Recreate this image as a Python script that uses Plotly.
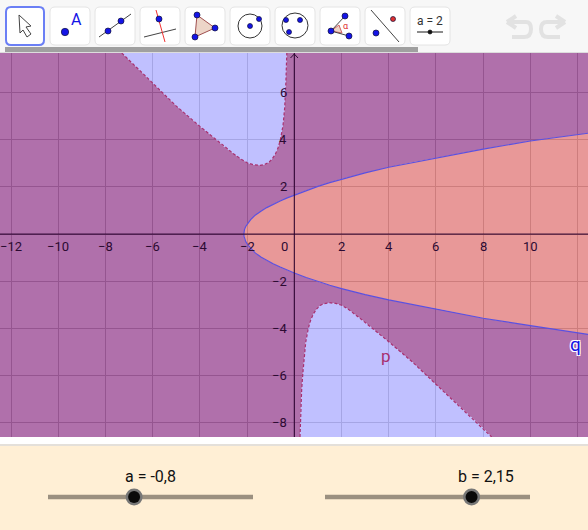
"""
GeoGebra applet screenshot: two conic/cubic regions p and q with sliders
"""
import plotly.graph_objects as go

W = 588
H = 530

# axes
x_range = [-12.47, 12.44]
y_range = [-8.6, 7.67]
x_tick_labels = [-12, -10, -8, -6, -4, -2, 2, 4, 6, 8, 10]
y_tick_labels = [6, 4, 2, -2, -4, -6, -8]

# curve q
q_x = [-2.14, -2.13, -2.11, -2.06, -1.97, -1.85, -1.66, -1.4, -1.17, -0.9, -0.6, -0.3, 0, 0.5, 1, 1.5, 2, 3, 4, 5, 6, 8, 10, 12.44]
q_upper = [0, 0.1, 0.2, 0.32, 0.46, 0.61, 0.8, 0.98, 1.12, 1.26, 1.4, 1.53, 1.65, 1.84, 2.02, 2.18, 2.33, 2.59, 2.83, 3.04, 3.22, 3.6, 3.94, 4.27]
q_lower = [0, -0.1, -0.2, -0.32, -0.46, -0.61, -0.8, -0.98, -1.12, -1.26, -1.4, -1.53, -1.65, -1.84, -2.02, -2.17, -2.31, -2.57, -2.79, -2.99, -3.16, -3.57, -3.88, -4.25]

# curve p, upper left branch and lower right branch
p_top_x = [-7.31, -5.99, -5.0, -4.0, -3.43, -3.0, -2.6, -2.3, -2.0, -1.75, -1.45, -1.25, -1.09, -0.95, -0.81, -0.7, -0.59, -0.48, -0.41, -0.36, -0.32]
p_top_y = [7.67, 6.38, 5.42, 4.56, 4.1, 3.72, 3.42, 3.2, 3.02, 2.94, 2.91, 2.95, 3.03, 3.17, 3.38, 3.62, 4.0, 4.6, 5.34, 6.4, 7.67]
p_bot_x = [0.24, 0.27, 0.31, 0.36, 0.41, 0.48, 0.59, 0.7, 0.81, 0.95, 1.09, 1.25, 1.48, 1.75, 2.0, 2.3, 2.78, 3.3, 3.91, 5.0, 5.96, 8.01, 8.36]
p_bot_y = [-8.6, -7.5, -6.6, -5.9, -5.34, -4.6, -4.0, -3.62, -3.38, -3.17, -3.03, -2.95, -2.91, -2.94, -3.02, -3.2, -3.57, -3.98, -4.49, -5.42, -6.33, -8.23, -8.6]

# sliders
slider_min = -5
slider_max = 5
a_value = -0.8
b_value = 2.15

# fills are translucent so the grid shows through
PURPLE = "rgba(142,51,136,0.7)"
BLUE = "rgba(165,165,255,0.7)"
ORANGE = "rgba(222,108,108,0.7)"
GRID = "rgb(165,165,165)"
AXIS = "rgba(40,0,45,0.85)"
LABEL = "#2c0a32"
P_COLOR = "#a83070"
Q_COLOR = "#5a50e0"


def fx(px):
    return px / W


def fy(py):
    return 1 - py / H


def rect(x0, y0, x1, y1, fill, line=None, lw=0):
    return dict(type="rect", xref="paper", yref="paper", x0=fx(x0), y0=fy(y0), x1=fx(x1), y1=fy(y1),
                fillcolor=fill, line=dict(color=line or fill, width=lw), layer="below")


def button(left, right, top, bottom, line, lw, r=5):
    # rounded rectangle
    l, t, rr, b = left, top, right, bottom
    path = (f"M {fx(l + r)},{fy(t)} L {fx(rr - r)},{fy(t)} Q {fx(rr)},{fy(t)} {fx(rr)},{fy(t + r)} "
            f"L {fx(rr)},{fy(b - r)} Q {fx(rr)},{fy(b)} {fx(rr - r)},{fy(b)} "
            f"L {fx(l + r)},{fy(b)} Q {fx(l)},{fy(b)} {fx(l)},{fy(b - r)} "
            f"L {fx(l)},{fy(t + r)} Q {fx(l)},{fy(t)} {fx(l + r)},{fy(t)} Z")
    return dict(type="path", xref="paper", yref="paper", path=path, fillcolor="#ffffff", line=dict(color=line, width=lw))


def seg(x0, y0, x1, y1, color="#444444", lw=1):
    return dict(type="line", xref="paper", yref="paper", x0=fx(x0), y0=fy(y0), x1=fx(x1), y1=fy(y1),
                line=dict(color=color, width=lw))


def dot(cx, cy, r=3, fill="#1414e6", line="#10103a", lw=0.7):
    return dict(type="circle", xref="paper", yref="paper", x0=fx(cx - r), y0=fy(cy - r), x1=fx(cx + r), y1=fy(cy + r),
                fillcolor=fill, line=dict(color=line, width=lw))


def poly(points, fill, line="#555555", lw=1):
    path = "M " + " L ".join(f"{fx(a):.4f},{fy(b):.4f}" for a, b in points) + " Z"
    return dict(type="path", xref="paper", yref="paper", path=path, fillcolor=fill, line=dict(color=line, width=lw))


def label(px, py, text, size=13, color="#111111", family="Roboto", **kw):
    return dict(xref="paper", yref="paper", x=fx(px), y=fy(py), text=text, showarrow=False,
                xanchor="center", yanchor="middle",
                font=dict(size=size, color=color, family=family, **kw))


fig = go.Figure()

x0, x1 = x_range
y0, y1 = y_range

# one polygon for everything outside both blue regions and outside q
purple_x = ([x0] + p_top_x + [x1, x1] + q_x[::-1] + q_x + [x1, x1] + p_bot_x[::-1] + [x0, x0])
purple_y = ([y1] + p_top_y + [y1, q_upper[-1]] + q_upper[::-1] + q_lower + [y0, y0] + p_bot_y[::-1] + [y0, y1])
fig.add_trace(go.Scatter(x=purple_x, y=purple_y, fill="toself", fillcolor=PURPLE, mode="none", hoverinfo="skip"))
fig.add_trace(go.Scatter(x=p_top_x, y=p_top_y, fill="toself", fillcolor=BLUE, mode="none", hoverinfo="skip"))
fig.add_trace(go.Scatter(x=p_bot_x, y=p_bot_y, fill="toself", fillcolor=BLUE, mode="none", hoverinfo="skip"))
fig.add_trace(go.Scatter(x=q_x[::-1] + q_x, y=q_upper[::-1] + q_lower, fill="toself", fillcolor=ORANGE,
                         mode="none", hoverinfo="skip"))

# boundaries
for bx, by in [(p_top_x, p_top_y), (p_bot_x, p_bot_y)]:
    fig.add_trace(go.Scatter(x=bx, y=by, mode="lines", line=dict(color=P_COLOR, width=1.2, dash="3px,2px"),
                             hoverinfo="skip"))
fig.add_trace(go.Scatter(x=q_x[::-1] + q_x, y=q_upper[::-1] + q_lower, mode="lines",
                         line=dict(color=Q_COLOR, width=1.2), hoverinfo="skip"))

# axis lines go above the fills
fig.add_trace(go.Scatter(x=[x0, x1], y=[0, 0], mode="lines", line=dict(color=AXIS, width=1.2), hoverinfo="skip"))
fig.add_trace(go.Scatter(x=[0, 0], y=[y0, y1], mode="lines", line=dict(color=AXIS, width=1.2), hoverinfo="skip"))

shapes = [
    rect(0, 0, W, 53, "#f7f7f7"),
    rect(0, 52, W, 53, "#dddddd"),
    rect(5, 47, 418, 52, "#a0a0a0"),
    rect(0, 437, W, 445, "#ffffff"),
    rect(0, 445, W, H, "#ffefd5"),
    rect(0, 444, W, 446, "#e4e0da"),
]

# toolbar buttons
shapes.append(button(6, 44, 7, 45, "#6b7ff5", 2))
for left in [50, 95, 140, 185, 230, 275, 320, 365, 410]:
    shapes.append(button(left, left + 40, 7, 45, "#e4e4e4", 1))

# arrow tool
shapes.append(poly([(19, 15), (31, 26), (26, 27), (31, 34), (27, 37), (23, 30), (20, 33)], "#ffffff", "#444444", 1))
# point tool
shapes.append(dot(65, 32, 3.7))
# line tool
shapes.append(seg(99, 37, 131, 14))
shapes.append(dot(108, 31))
shapes.append(dot(121, 21))
# perpendicular tool
shapes.append(seg(144, 37, 176, 29))
shapes.append(seg(156, 10, 165, 42, "#f03030"))
shapes.append(dot(159, 19))
# triangle tool
shapes.append(poly([(197, 15), (215, 28), (195, 37)], "#edd5c8", "#a05050", 1))
shapes.append(dot(197, 15))
shapes.append(dot(215, 28))
shapes.append(dot(195, 37))
# circle tool
shapes.append(dict(type="circle", xref="paper", yref="paper", x0=fx(238), y0=fy(14), x1=fx(262), y1=fy(38),
                   line=dict(color="#333333", width=1)))
shapes.append(dot(250, 26, 2.5))
shapes.append(dot(259, 19, 2.5))
# conic tool
shapes.append(dict(type="circle", xref="paper", yref="paper", x0=fx(282), y0=fy(13), x1=fx(308), y1=fy(38),
                   line=dict(color="#333333", width=1)))
shapes.append(dot(286, 20, 2.5))
shapes.append(dot(289, 32, 2.5))
shapes.append(dot(300, 20, 2.5))
# angle tool
shapes.append(poly([(331, 31), (339, 25), (342, 33)], "#edd5c8", "#d06060", 1))
shapes.append(seg(331, 31, 345, 16))
shapes.append(seg(331, 31, 349, 36))
shapes.append(dot(331, 31))
shapes.append(dot(345, 16))
shapes.append(dot(349, 36))
# mirror tool
shapes.append(seg(371, 10, 399, 42))
shapes.append(dot(376, 33))
shapes.append(dot(393, 19, 2.5, "#e03030"))
# slider tool
shapes.append(seg(417, 32, 443, 32, "#666666", 1.5))
shapes.append(dot(430, 32, 2, "#111111", "#111111"))

# undo / redo
GREY = "#e2e2e2"
shapes.append(dict(type="path", xref="paper", yref="paper", line=dict(color=GREY, width=4),
                   path=f"M {fx(507)},{fy(22)} L {fx(526)},{fy(22)} Q {fx(531)},{fy(22)} {fx(531)},{fy(29)} "
                        f"Q {fx(531)},{fy(37)} {fx(524)},{fy(37)} L {fx(512)},{fy(37)}"))
shapes.append(seg(516, 16, 507, 22, GREY, 4))
shapes.append(seg(507, 22, 516, 28, GREY, 4))
shapes.append(dict(type="path", xref="paper", yref="paper", line=dict(color=GREY, width=4),
                   path=f"M {fx(565)},{fy(22)} L {fx(547)},{fy(22)} Q {fx(541)},{fy(22)} {fx(541)},{fy(29)} "
                        f"Q {fx(541)},{fy(37)} {fx(548)},{fy(37)} L {fx(560)},{fy(37)}"))
shapes.append(seg(556, 16, 565, 22, GREY, 4))
shapes.append(seg(565, 22, 556, 28, GREY, 4))

# axis arrow at the top of the y axis
shapes.append(seg(294.3, 54, 290.5, 58, "#2c0a32", 1))
shapes.append(seg(294.3, 54, 298, 58, "#2c0a32", 1))

# sliders
annotations = []
for left, value, name, text_x in [(48, a_value, "a", 150), (325, b_value, "b", 486)]:
    shapes.append(seg(left, 497, left + 205, 497, "#9b9080", 4.5))
    knob = left + 205 * (value - slider_min) / (slider_max - slider_min)
    shapes.append(dot(knob, 497, 8.5, "#777777", "#777777", 0))
    shapes.append(dot(knob, 497, 6, "#0a0a0a", "#0a0a0a", 0))
    annotations.append(label(text_x, 476, f"{name} = {str(value).replace('.', ',')}", size=16))

# toolbar texts
annotations.append(label(76, 20, "A", size=16, color="#1414e6"))
annotations.append(label(346, 26, "\u03b1", size=9, color="#e03030"))
annotations.append(label(430, 21, "a = 2", size=12, color="#333333"))

# tick labels sit next to the axes, not at the plot edge
for v in x_tick_labels:
    text = f"\u2212{abs(v)}" if v < 0 else str(v)
    annotations.append(dict(x=v, y=0, xref="x", yref="y", text=text, showarrow=False, yshift=-12,
                            font=dict(size=13, color=LABEL, family="Roboto")))
annotations.append(dict(x=0, y=0, xref="x", yref="y", text="0", showarrow=False, xshift=-10, yshift=-12,
                        font=dict(size=13, color=LABEL, family="Roboto")))
for v in y_tick_labels:
    text = f"\u2212{abs(v)}" if v < 0 else str(v)
    annotations.append(dict(x=0, y=v, xref="x", yref="y", text=text, showarrow=False, xanchor="right", xshift=-5,
                            font=dict(size=13, color=LABEL, family="Roboto")))

annotations.append(label(386, 356, "p", size=17, color=P_COLOR))
annotations.append(label(575, 344, "q", size=19, color="#1414e6",
                         shadow="1px 1px 0 #fff, -1px -1px 0 #fff, 1px -1px 0 #fff, -1px 1px 0 #fff"))

fig.update_layout(
    width=W,
    height=H,
    margin=dict(l=0, r=0, t=0, b=0),
    paper_bgcolor="#ffffff",
    plot_bgcolor="#ffffff",
    showlegend=False,
    shapes=shapes,
    annotations=annotations,
    xaxis=dict(range=x_range, domain=[0, 1], dtick=2, tick0=0, showgrid=True, gridcolor=GRID, gridwidth=1,
               zeroline=False, showticklabels=False, ticks=""),
    yaxis=dict(range=y_range, domain=[1 - 437 / H, 1 - 53 / H], dtick=2, tick0=0, showgrid=True, gridcolor=GRID,
               gridwidth=1, zeroline=False, showticklabels=False, ticks=""),
)

fig.write_html("out.html", config={"displayModeBar": False},
               post_script="document.body.style.margin='0';")
